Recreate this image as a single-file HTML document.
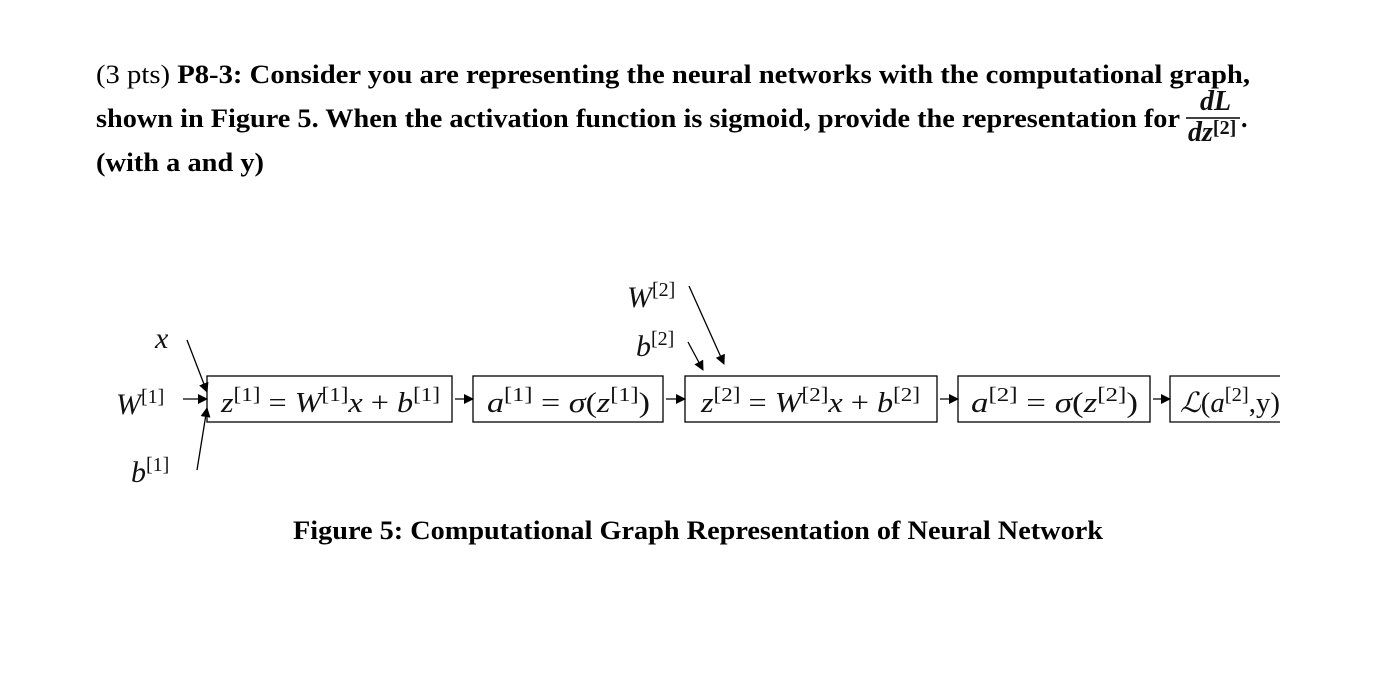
<!DOCTYPE html>
<html><head><meta charset="utf-8"><style>
html,body{margin:0;padding:0;background:#fff;}
svg{display:block;}
.t{font-family:"Liberation Serif",serif;font-size:26px;fill:#000;}
.b{font-weight:bold;}
.m{font-family:"Liberation Serif",serif;font-style:italic;font-size:28px;fill:#111;}
.l{font-size:30px;}
.s{font-size:20px;font-style:normal;}
</style></head><body>
<svg width="1396" height="695" viewBox="0 0 1396 695" xmlns="http://www.w3.org/2000/svg">
<defs><marker id="a" markerWidth="10" markerHeight="10" refX="9" refY="5" orient="auto" markerUnits="userSpaceOnUse"><path d="M0,0 L10,5 L0,10 z" fill="#000"/></marker></defs>
<text class="t" x="96" y="83" textLength="1154" lengthAdjust="spacingAndGlyphs">(3 pts) <tspan class="b">P8-3: Consider you are representing the neural networks with the computational graph,</tspan></text>
<text class="t b" x="96" y="127" textLength="1084" lengthAdjust="spacingAndGlyphs">shown in Figure 5. When the activation function is sigmoid, provide the representation for</text>
<text class="t b" x="96" y="171" textLength="168" lengthAdjust="spacingAndGlyphs">(with a and y)</text>
<text class="m b" x="1200" y="110" font-size="20">dL</text>
<line x1="1186" y1="118" x2="1240" y2="118" stroke="#000" stroke-width="1.5"/>
<text class="m b" x="1188" y="141" font-size="20">dz<tspan class="s" dy="-7" font-size="14">[2]</tspan></text>
<text class="t b" x="1241" y="127">.</text>

<g fill="none" stroke="#000" stroke-width="1.3">
<rect x="207" y="376" width="245" height="46"/>
<rect x="473" y="376" width="190" height="46"/>
<rect x="685" y="376" width="252" height="46"/>
<rect x="958" y="376" width="192" height="46"/>
<path d="M1280,376 H1170 V422 H1280"/>
<line x1="187" y1="340" x2="207" y2="392" marker-end="url(#a)"/>
<line x1="183" y1="399" x2="207" y2="399" marker-end="url(#a)"/>
<line x1="197" y1="470" x2="207" y2="408" marker-end="url(#a)"/>
<line x1="455" y1="399" x2="473" y2="399" marker-end="url(#a)"/>
<line x1="666" y1="399" x2="685" y2="399" marker-end="url(#a)"/>
<line x1="940" y1="399" x2="958" y2="399" marker-end="url(#a)"/>
<line x1="1153" y1="399" x2="1170" y2="399" marker-end="url(#a)"/>
<line x1="689" y1="286" x2="724" y2="364" marker-end="url(#a)"/>
<line x1="688" y1="342" x2="703" y2="370" marker-end="url(#a)"/>
</g>
<text class="m l" x="155" y="348">x</text>
<text class="m l" x="116" y="414">W<tspan class="s" dy="-11">[1]</tspan></text>
<text class="m l" x="131" y="482">b<tspan class="s" dy="-11">[1]</tspan></text>
<text class="m l" x="627" y="307">W<tspan class="s" dy="-11">[2]</tspan></text>
<text class="m l" x="636" y="356">b<tspan class="s" dy="-11">[2]</tspan></text>
<text class="m" x="221" y="412" textLength="219" lengthAdjust="spacingAndGlyphs">z<tspan class="s" dy="-11">[1]</tspan><tspan dy="11" font-style="normal"> = </tspan>W<tspan class="s" dy="-11">[1]</tspan><tspan dy="11">x</tspan><tspan font-style="normal"> + </tspan>b<tspan class="s" dy="-11">[1]</tspan></text>
<text class="m" x="487" y="412" textLength="163" lengthAdjust="spacingAndGlyphs">a<tspan class="s" dy="-11">[1]</tspan><tspan dy="11" font-style="normal"> =  </tspan>σ<tspan font-style="normal">(</tspan>z<tspan class="s" dy="-11">[1]</tspan><tspan dy="11" font-style="normal">)</tspan></text>
<text class="m" x="701" y="412" textLength="219" lengthAdjust="spacingAndGlyphs">z<tspan class="s" dy="-11">[2]</tspan><tspan dy="11" font-style="normal"> = </tspan>W<tspan class="s" dy="-11">[2]</tspan><tspan dy="11">x</tspan><tspan font-style="normal"> + </tspan>b<tspan class="s" dy="-11">[2]</tspan></text>
<text class="m" x="971" y="412" textLength="167" lengthAdjust="spacingAndGlyphs">a<tspan class="s" dy="-11">[2]</tspan><tspan dy="11" font-style="normal"> =  </tspan>σ<tspan font-style="normal">(</tspan>z<tspan class="s" dy="-11">[2]</tspan><tspan dy="11" font-style="normal">)</tspan></text>
<text class="m" x="1180" y="412" textLength="100" lengthAdjust="spacingAndGlyphs">ℒ<tspan font-style="normal">(</tspan>a<tspan class="s" dy="-11">[2]</tspan><tspan dy="11" font-style="normal">,y)</tspan></text>
<text class="t b" x="293" y="539" textLength="810" lengthAdjust="spacingAndGlyphs">Figure 5: Computational Graph Representation of Neural Network</text>
</svg>
</body></html>
